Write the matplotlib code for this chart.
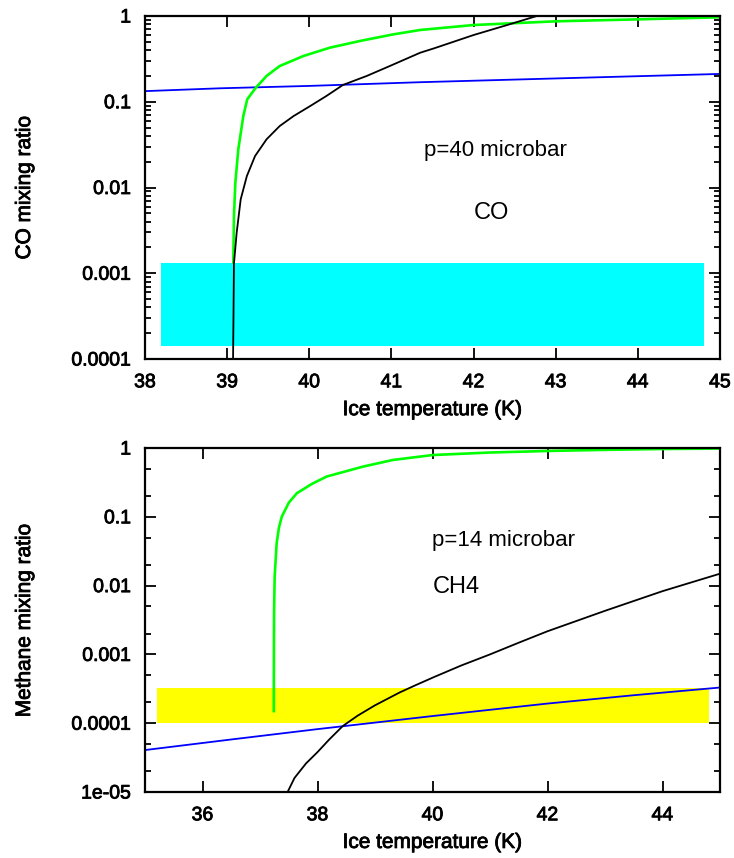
import matplotlib
matplotlib.use("Agg")
import matplotlib.pyplot as plt
import matplotlib.patheffects as pe
from matplotlib.ticker import LogLocator, NullFormatter

plt.rcParams['font.family'] = ['Liberation Sans', 'DejaVu Sans']

# ---- top panel: CO, p=40 microbar ----
co_blue_T = [38.0, 38.91, 40.0, 41.35, 43.0, 45.0]
co_blue = [0.133, 0.1435, 0.153, 0.169, 0.187, 0.211]

co_green_T = [39.075, 39.083, 39.10, 39.136, 39.197, 39.245, 39.35, 39.48, 39.64,
              39.93, 40.25, 40.62, 41.02, 41.35, 42.0, 43.0, 44.0, 45.0]
co_green = [0.00133, 0.00466, 0.0114, 0.0279, 0.0682, 0.107, 0.146, 0.2, 0.261,
            0.342, 0.427, 0.512, 0.61, 0.687, 0.785, 0.867, 0.914, 0.966]

co_black_T = [39.072, 39.077, 39.083, 39.116, 39.165, 39.24, 39.34, 39.48, 39.64,
              39.81, 40.01, 40.21, 40.41, 40.70, 40.98, 41.35, 41.52, 42.0, 42.4, 42.77]
co_black = [1e-4, 3e-4, 1.3e-3, 2.97e-3, 7.28e-3, 0.0136, 0.0233, 0.0365, 0.0521,
            0.0682, 0.089, 0.117, 0.157, 0.2, 0.261, 0.373, 0.42, 0.6, 0.78, 1.0]

co_box_T = [38.2, 44.8]
co_box_lo = 1.4e-4
co_box_hi = 1.3e-3

# ---- bottom panel: CH4, p=14 microbar ----
ch4_blue_T = [35.0, 36.5, 38.0, 40.0, 42.0, 43.5, 45.0]
ch4_blue = [4.07e-5, 5.8e-5, 8.2e-5, 1.27e-4, 1.93e-4, 2.55e-4, 3.3e-4]

ch4_green_T = [37.24, 37.242, 37.245, 37.255, 37.29, 37.33, 37.38, 37.5, 37.64, 37.9,
               38.16, 38.79, 39.31, 40.0, 41.0, 42.0, 43.0, 44.0, 45.0]
ch4_green = [1.5e-4, 1e-3, 4e-3, 0.0136, 0.0416, 0.07, 0.101, 0.16, 0.22, 0.3,
             0.385, 0.536, 0.67, 0.79, 0.86, 0.905, 0.94, 0.967, 0.98]

ch4_black_T = [37.48, 37.6, 37.8, 38.0, 38.2, 38.44, 38.7, 39.0, 39.43, 39.7, 40.03,
               40.5, 41.0, 41.5, 42.0, 43.0, 44.0, 45.0]
ch4_black = [1e-5, 1.6e-5, 2.6e-5, 3.8e-5, 5.75e-5, 9.1e-5, 1.29e-4, 1.82e-4, 2.8e-4,
             3.55e-4, 4.7e-4, 6.9e-4, 1.0e-3, 1.48e-3, 2.17e-3, 4.3e-3, 8.3e-3, 0.0149]

ch4_box_T = [35.2, 44.8]
ch4_box_lo = 1.0e-4
ch4_box_hi = 3.2e-4

top_yticks = [1e-4, 1e-3, 1e-2, 1e-1, 1]
top_ylabels = ['0.0001', '0.001', '0.01', '0.1', '1']
bot_yticks = [1e-5, 1e-4, 1e-3, 1e-2, 1e-1, 1]
bot_ylabels = ['1e-05', '0.0001', '0.001', '0.01', '0.1', '1']

fig = plt.figure(figsize=(7.34, 8.58), dpi=100)
ax1 = fig.add_axes([145/734, 1-359/858, 575/734, 343/858])
ax2 = fig.add_axes([145/734, 1-792/858, 575/734, 344/858])

thick = [pe.withStroke(linewidth=0.6, foreground='black')]


def style(ax, subs):
    ax.set_yscale('log')
    for s in ax.spines.values():
        s.set_linewidth(1.6)
    ax.tick_params(which='both', direction='in', top=True, right=True,
                   width=1.3, labelsize=14)
    ax.tick_params(which='major', length=8)
    ax.tick_params(axis='x', pad=11)
    ax.tick_params(axis='y', pad=10)
    ax.tick_params(which='minor', length=4)
    ax.tick_params(axis='x', which='minor', top=False, bottom=False)
    ax.yaxis.set_minor_locator(LogLocator(base=10, subs=subs))
    ax.yaxis.set_minor_formatter(NullFormatter())


def thicken(ax):
    for t in ax.get_xticklabels() + ax.get_yticklabels():
        t.set_path_effects(thick)
    ax.xaxis.label.set_path_effects(thick)
    ax.yaxis.label.set_path_effects(thick)


# top
ax1.fill_between(co_box_T, co_box_lo, co_box_hi, color='#00ffff', lw=0)
ax1.plot(co_blue_T, co_blue, color='#0000ff', lw=1.3)
ax1.plot(co_green_T, co_green, color='#00ff00', lw=1.9)
ax1.plot(co_black_T, co_black, color='black', lw=1.3)
style(ax1, (2, 3, 4, 5, 6, 7, 8, 9))
ax1.set_xlim(38, 45)
ax1.set_ylim(1e-4, 1)
ax1.set_xticks(range(38, 46))
ax1.set_yticks(top_yticks, top_ylabels)
ax1.text(41.4, 0.027, 'p=40 microbar', fontsize=16, ha='left', va='center')
ax1.text(42.0, 0.005, 'CO', fontsize=17, ha='left', va='center')
ax1.set_xlabel('Ice temperature (K)', fontsize=15)
ax1.set_ylabel('CO mixing ratio', fontsize=15)
ax1.xaxis.set_label_coords(0.5, -0.12)
ax1.yaxis.set_label_coords(-0.193, 0.5)
thicken(ax1)

# bottom
ax2.fill_between(ch4_box_T, ch4_box_lo, ch4_box_hi, color='#ffff00', lw=0)
ax2.plot(ch4_blue_T, ch4_blue, color='#0000ff', lw=1.3)
ax2.plot(ch4_green_T, ch4_green, color='#00ff00', lw=1.9)
ax2.plot(ch4_black_T, ch4_black, color='black', lw=1.3)
style(ax2, (2, 5))
ax2.set_xlim(35, 45)
ax2.set_ylim(1e-5, 1)
ax2.set_xticks([36, 38, 40, 42, 44])
ax2.set_yticks(bot_yticks, bot_ylabels)
ax2.text(40.0, 0.046, 'p=14 microbar', fontsize=16, ha='left', va='center')
ax2.text(40.0, 0.0097, 'CH4', fontsize=17, ha='left', va='center')
ax2.set_xlabel('Ice temperature (K)', fontsize=15)
ax2.set_ylabel('Methane mixing ratio', fontsize=15)
ax2.xaxis.set_label_coords(0.5, -0.119)
ax2.yaxis.set_label_coords(-0.193, 0.5)
thicken(ax2)

fig.savefig('out.png', dpi=100)
